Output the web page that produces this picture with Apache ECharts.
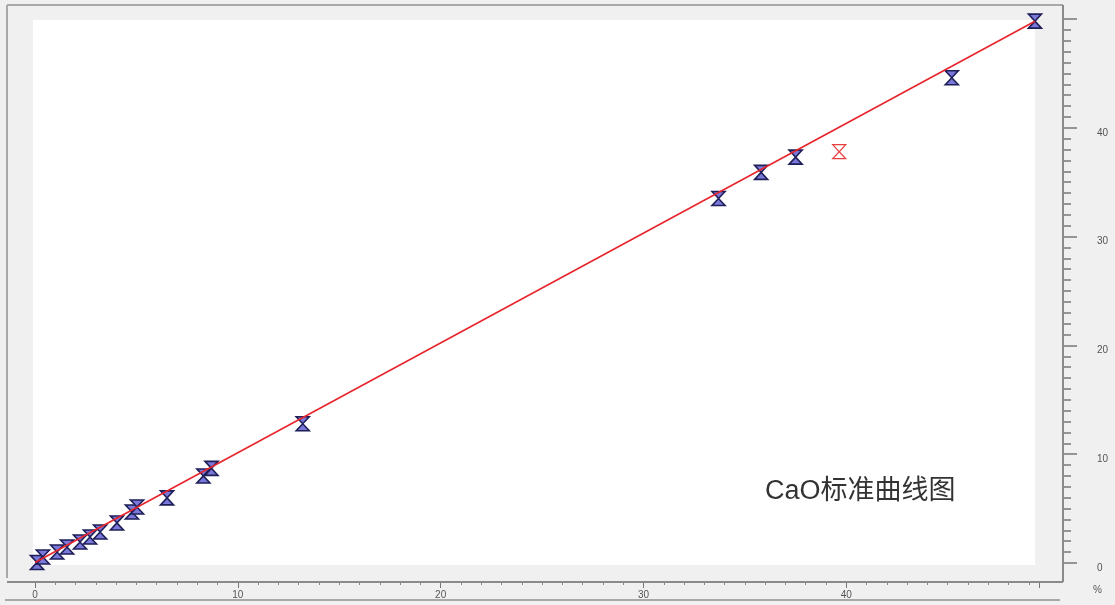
<!DOCTYPE html>
<html>
<head>
<meta charset="utf-8">
<script src="https://cdn.jsdelivr.net/npm/echarts@6/dist/echarts.min.js"></script>
<style>html,body{margin:0;padding:0;background:#f0f0f0;}#c{width:1115px;height:605px;}</style>
</head>
<body>
<div id="c"></div>
<script>
// Standard samples: nominal content (x, %) vs measured (y, %)
const stdX = [0.10, 0.39, 1.09, 1.58, 2.22, 2.71, 3.21, 4.04, 4.78, 5.03, 6.51, 8.30, 8.70, 13.2, 33.7, 35.8, 37.5, 45.2, 49.3];
const stdY = [0.05, 0.55, 1.01, 1.47, 1.93, 2.39, 2.85, 3.68, 4.69, 5.15, 5.98, 8.00, 8.70, 12.8, 33.5, 35.9, 37.3, 44.6, 49.8];
// Excluded sample (red outline)
const outX = [39.65];
const outY = [37.8];
// Calibration line end points
const lineX = [0.0, 49.3];
const lineY = [0.05, 49.8];
const xTicks = [0, 10, 20, 30, 40];
const yTicks = [0, 10, 20, 30, 40];
const titleText = 'CaO标准曲线图';
const unitText = '%';

const hourglass = 'path://M0,0 L10,0 L5,7 L10,14 L0,14 L5,7 Z';
const font = 'Liberation Sans, DejaVu Sans, sans-serif';

const chart = echarts.init(document.getElementById('c'));
chart.setOption({
  backgroundColor: '#f0f0f0',
  animation: false,
  title: {
    text: titleText, left: 760, top: 473,
    textStyle: {fontSize: 27, fontWeight: 'normal', color: '#333', fontFamily: 'Liberation Sans, Noto Sans CJK SC, sans-serif'}
  },
  grid: {left: 35, right: 76, top: 19, bottom: 42, show: false},
  graphic: [
    {type: 'rect', shape: {x: 33, y: 20, width: 1002, height: 545}, style: {fill: '#ffffff'}, z: 0, silent: true},
    {type: 'line', shape: {x1: 7, y1: 5, x2: 7, y2: 578}, style: {stroke: '#a8a8a8', lineWidth: 2}, z: 10},
    {type: 'line', shape: {x1: 7, y1: 5, x2: 1063, y2: 5}, style: {stroke: '#a8a8a8', lineWidth: 2}, z: 10},
    {type: 'line', shape: {x1: 1063, y1: 5, x2: 1063, y2: 582}, style: {stroke: '#8a8a8a', lineWidth: 2}, z: 10},
    {type: 'line', shape: {x1: 7, y1: 582, x2: 1063, y2: 582}, style: {stroke: '#8a8a8a', lineWidth: 2}, z: 10},
    {type: 'line', shape: {x1: 5, y1: 600, x2: 1060, y2: 600}, style: {stroke: '#a8a8a8', lineWidth: 2}, z: 10}
  ],
  xAxis: {
    type: 'value', min: 0, max: 49.5, interval: 10, offset: 19,
    name: unitText, nameLocation: 'end', nameGap: 54,
    nameTextStyle: {color: '#555', fontSize: 10, verticalAlign: 'top', padding: [3, 0, 0, 0], fontFamily: font},
    axisLine: {show: true, onZero: false, lineStyle: {color: '#8a8a8a', width: 2}},
    axisTick: {show: true, length: 6, lineStyle: {color: '#777'}},
    minorTick: {show: true, splitNumber: 10, length: 3, lineStyle: {color: '#888'}},
    axisLabel: {color: '#555', fontSize: 10, margin: 8, fontFamily: font, showMaxLabel: false,
      formatter: v => xTicks.includes(v) ? String(v) : ''},
    splitLine: {show: false}
  },
  yAxis: {
    type: 'value', position: 'right', min: 0, max: 50, interval: 10, offset: 24,
    axisLine: {show: true, onZero: false, lineStyle: {color: '#8a8a8a', width: 2}},
    axisTick: {show: true, length: 14, lineStyle: {color: '#777', width: 1.5}},
    minorTick: {show: true, splitNumber: 10, length: 8, lineStyle: {color: '#777', width: 1.5}},
    axisLabel: {color: '#555', fontSize: 10, margin: 34, verticalAlign: 'top', fontFamily: font, showMaxLabel: false,
      formatter: v => yTicks.includes(v) ? String(v) : ''},
    splitLine: {show: false}
  },
  series: [
    {
      type: 'scatter', name: 'std', symbol: hourglass, symbolSize: [13, 14], z: 2,
      data: stdX.map((x, i) => [x, stdY[i]]),
      itemStyle: {color: '#7a78d8', borderColor: '#1e1e58', borderWidth: 1.6, opacity: 1}
    },
    {
      type: 'scatter', name: 'excluded', symbol: hourglass, symbolSize: [13, 14], z: 2,
      data: outX.map((x, i) => [x, outY[i]]),
      itemStyle: {color: '#ffffff', borderColor: '#e84040', borderWidth: 1.2, opacity: 1}
    },
    {
      type: 'line', name: 'fit', z: 3, symbol: 'none',
      data: lineX.map((x, i) => [x, lineY[i]]),
      lineStyle: {color: '#e8242c', width: 1.6}
    }
  ]
});
</script>
</body>
</html>
